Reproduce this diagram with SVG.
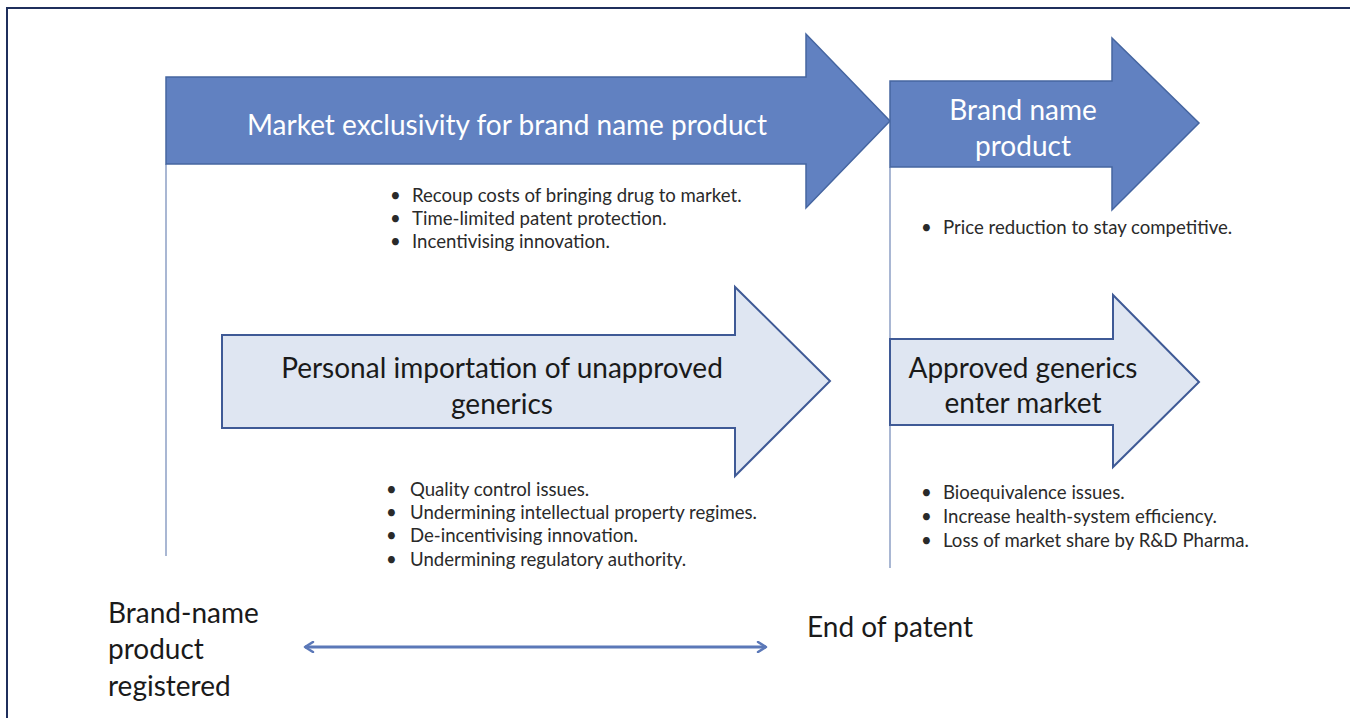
<svg xmlns="http://www.w3.org/2000/svg" width="1350" height="718" viewBox="0 0 1350 718">
<defs>
<style>
.dark{fill:#6181c1;stroke:#4565a0;stroke-width:1.5}
.light{fill:#dfe6f2;stroke:#3f5a96;stroke-width:2}
.vline{stroke:#a9b7d3;stroke-width:2}
.tw{font-family:Lato,"Open Sans",sans-serif;font-size:28px;fill:#ffffff;text-anchor:middle}
.tb{font-family:Lato,"Open Sans",sans-serif;font-size:28px;fill:#1a1a1a;text-anchor:middle}
.bl{font-family:Lato,"Open Sans",sans-serif;font-size:18.6px;fill:#2a2a2a}
.lab{font-family:Lato,"Open Sans",sans-serif;font-size:28px;fill:#1a1a1a}
</style>
<marker id="chev" viewBox="0 0 12 12" refX="10" refY="6" markerWidth="12" markerHeight="12" markerUnits="userSpaceOnUse" orient="auto-start-reverse">
<path d="M2,1 L10,6 L2,11" fill="none" stroke="#5b78b8" stroke-width="2.5" stroke-linecap="round" stroke-linejoin="round"/>
</marker>
</defs>
<rect x="0" y="0" width="1350" height="718" fill="#ffffff"/>
<rect x="7" y="8" width="1400" height="800" fill="none" stroke="#1f2f5c" stroke-width="2"/>

<g id="connectors">
<line class="vline" x1="166" y1="164" x2="166" y2="556"/>
<line class="vline" x1="890" y1="167" x2="890" y2="568"/>
<line x1="305" y1="647" x2="766" y2="647" stroke="#5b78b8" stroke-width="3" marker-start="url(#chev)" marker-end="url(#chev)"/>
</g>

<g id="market-exclusivity">
<polygon class="dark" points="166,77 806,77 806,34 890,121 806,208 806,164 166,164"/>
<text class="tw" x="507" y="135">Market exclusivity for brand name product</text>
</g>

<g id="market-bullets" class="bl">
<text x="390" y="202">•</text><text x="412" y="202">Recoup costs of bringing drug to market.</text>
<text x="390" y="225">•</text><text x="412" y="225">Time-limited patent protection.</text>
<text x="390" y="248">•</text><text x="412" y="248">Incentivising innovation.</text>
</g>

<g id="brand-name-product">
<polygon class="dark" points="890,81 1112,81 1112,38 1199,123 1112,210 1112,167 890,167"/>
<text class="tw" x="1023" y="120">Brand name</text>
<text class="tw" x="1023" y="156">product</text>
</g>

<g id="brand-bullets" class="bl">
<text x="921" y="234">•</text><text x="943" y="234">Price reduction to stay competitive.</text>
</g>

<g id="personal-importation">
<polygon class="light" points="222,335 735,335 735,287 830,381 735,476 735,428 222,428"/>
<text class="tb" x="502" y="378">Personal importation of unapproved</text>
<text class="tb" x="502" y="414">generics</text>
</g>

<g id="personal-bullets" class="bl">
<text x="386" y="496">•</text><text x="410" y="496">Quality control issues.</text>
<text x="386" y="519">•</text><text x="410" y="519">Undermining intellectual property regimes.</text>
<text x="386" y="542">•</text><text x="410" y="542">De-incentivising innovation.</text>
<text x="386" y="566">•</text><text x="410" y="566">Undermining regulatory authority.</text>
</g>

<g id="approved-generics">
<polygon class="light" points="890,339 1113,339 1113,295 1199,382 1113,467 1113,425 890,425"/>
<text class="tb" x="1023" y="378">Approved generics</text>
<text class="tb" x="1023" y="413">enter market</text>
</g>

<g id="approved-bullets" class="bl">
<text x="921" y="499">•</text><text x="943" y="499">Bioequivalence issues.</text>
<text x="921" y="523">•</text><text x="943" y="523">Increase health-system efficiency.</text>
<text x="921" y="547">•</text><text x="943" y="547">Loss of market share by R&amp;D Pharma.</text>
</g>

<g id="brand-registered">
<text class="lab" x="108" y="623">Brand-name</text>
<text class="lab" x="108" y="659">product</text>
<text class="lab" x="108" y="696">registered</text>
</g>

<g id="end-of-patent">
<text class="lab" x="807" y="637">End of patent</text>
</g>
</svg>
